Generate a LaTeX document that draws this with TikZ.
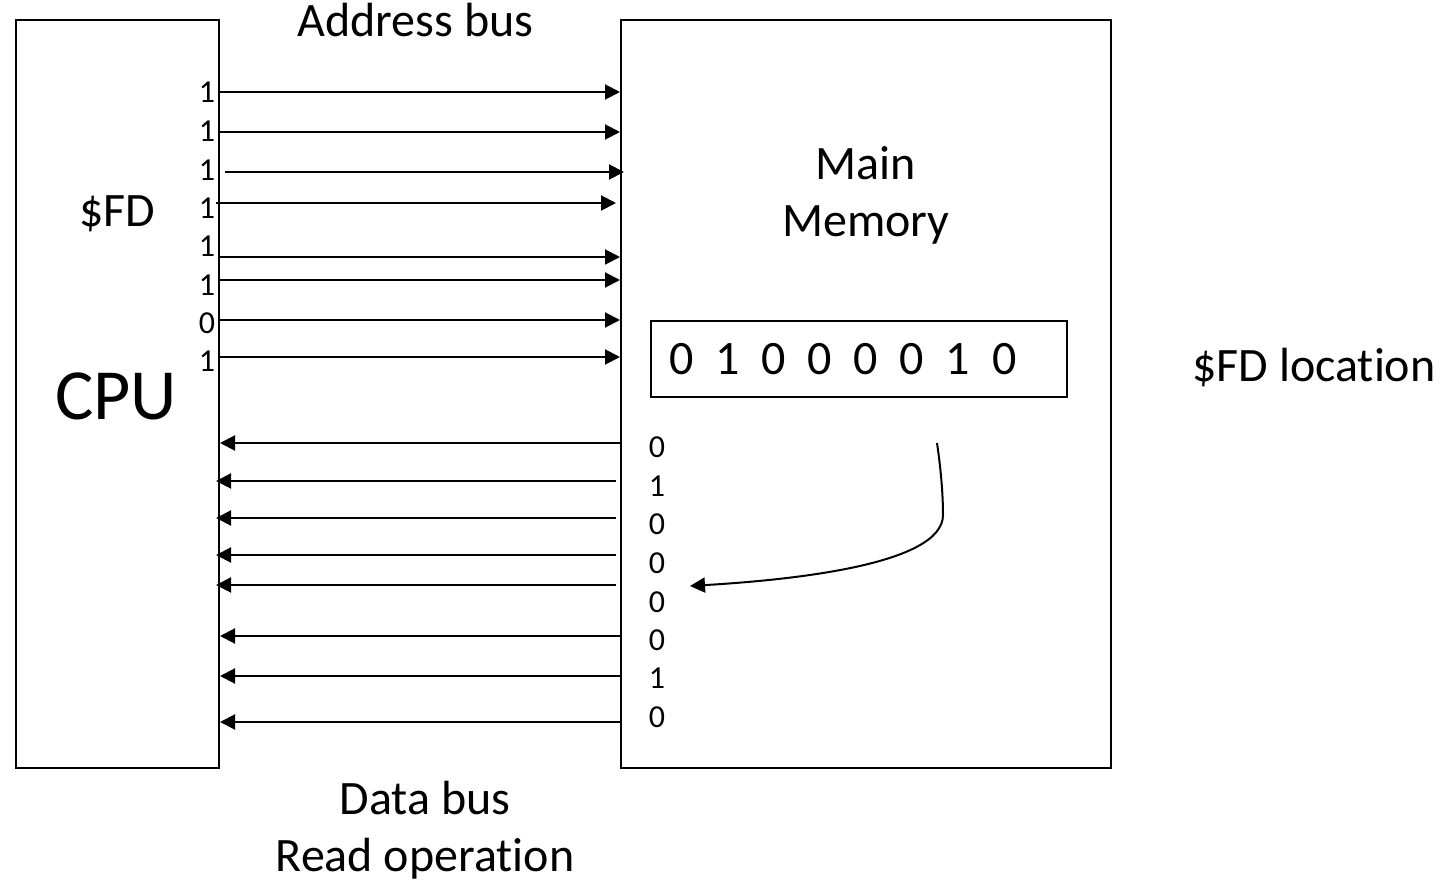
\documentclass[tikz,border=0pt]{standalone}
\usepackage{fontspec}
\setmainfont{Carlito}[Ligatures=NoCommon]
\usetikzlibrary{arrows.meta,calc}
\tikzset{
  block/.style={draw=black,line width=1pt,inner sep=0pt},
  lbl/.style={anchor=base,inner sep=0pt,font=\fontsize{24}{28.8}\selectfont},
  biglbl/.style={anchor=base,inner sep=0pt,font=\fontsize{36}{43}\selectfont},
  bit/.style={anchor=base,inner sep=0pt,font=\fontsize{16}{19}\selectfont},
  bus/.style={-{Triangle[length=7.5pt,width=7.5pt]},draw=black,line width=1pt}
}

\begin{document}
\begin{tikzpicture}[x=0.5pt,y=-0.5pt]
\useasboundingbox[fill=white] (0,0) rectangle (1448,882);
\node[block,minimum width=101.5pt,minimum height=374pt] (cpu) at (117.5,394) {};
\node[block,minimum width=245pt,minimum height=374pt] (mem) at (866,394) {};
\node[block,minimum width=208pt,minimum height=38pt] (cell) at (859,359) {};

\node[lbl] (addrlbl) at (415.5,37) {Address bus};
\node[lbl] (fdlbl) at (117.5,227) {\$FD};
\node[biglbl] (cpulbl) at (116,420) {CPU};
\node[lbl] (mainlbl) at (866,180) {Main};
\node[lbl] (memlbl) at (866,237) {Memory};
\node[lbl] (cellval) at (843,375) {0~~1~~0~~0~~0~~0~~1~~0};
\node[lbl] (loclbl) at (1314,382) {\$FD location};
\node[lbl] (datalbl) at (425,814) {Data bus};
\node[lbl] (readlbl) at (425,871) {Read operation};

\node[bit] (a1) at (207,103) {1};
\node[bit] (a2) at (207,142) {1};
\node[bit] (a3) at (207,181) {1};
\node[bit] (a4) at (207,219) {1};
\node[bit] (a5) at (207,257) {1};
\node[bit] (a6) at (207,296) {1};
\node[bit] (a7) at (207,334) {0};
\node[bit] (a8) at (207,372) {1};

\node[bit] (d1) at (657,458) {0};
\node[bit] (d2) at (657,497) {1};
\node[bit] (d3) at (657,535) {0};
\node[bit] (d4) at (657,574) {0};
\node[bit] (d5) at (657,612) {0};
\node[bit] (d6) at (657,650) {0};
\node[bit] (d7) at (657,689) {1};
\node[bit] (d8) at (657,727) {0};

\draw[bus] (cpu.east |- 0,92) -- (mem.west |- 0,92);
\draw[bus] (cpu.east |- 0,132) -- (mem.west |- 0,132);
\draw[bus] ($(cpu.east |- 0,172)+(5,0)$) -- ($(mem.west |- 0,172)+(4,0)$);
\draw[bus] ($(cpu.east |- 0,203)+(-4,0)$) -- ($(mem.west |- 0,203)+(-4,0)$);
\draw[bus] (cpu.east |- 0,257) -- (mem.west |- 0,257);
\draw[bus] (cpu.east |- 0,280) -- (mem.west |- 0,280);
\draw[bus] (cpu.east |- 0,320) -- (mem.west |- 0,320);
\draw[bus] (cpu.east |- 0,357) -- (mem.west |- 0,357);

\draw[bus] (mem.west |- 0,443) -- (cpu.east |- 0,443);
\draw[bus] ($(mem.west |- 0,481)+(-4,0)$) -- ($(cpu.east |- 0,481)+(-4,0)$);
\draw[bus] ($(mem.west |- 0,518)+(-4,0)$) -- ($(cpu.east |- 0,518)+(-4,0)$);
\draw[bus] ($(mem.west |- 0,555)+(-4,0)$) -- ($(cpu.east |- 0,555)+(-4,0)$);
\draw[bus] ($(mem.west |- 0,585)+(-4,0)$) -- ($(cpu.east |- 0,585)+(-4,0)$);
\draw[bus] (mem.west |- 0,636) -- (cpu.east |- 0,636);
\draw[bus] (mem.west |- 0,676) -- (cpu.east |- 0,676);
\draw[bus] (mem.west |- 0,722) -- (cpu.east |- 0,722);

\coordinate (curvetop) at (937,443);
\coordinate (curveend) at (690,586);
\draw[bus] (curvetop) .. controls (941,470) and (943,495) .. (943,515)
  .. controls (943,565) and (790,580) .. (curveend);

\end{tikzpicture}
\end{document}
